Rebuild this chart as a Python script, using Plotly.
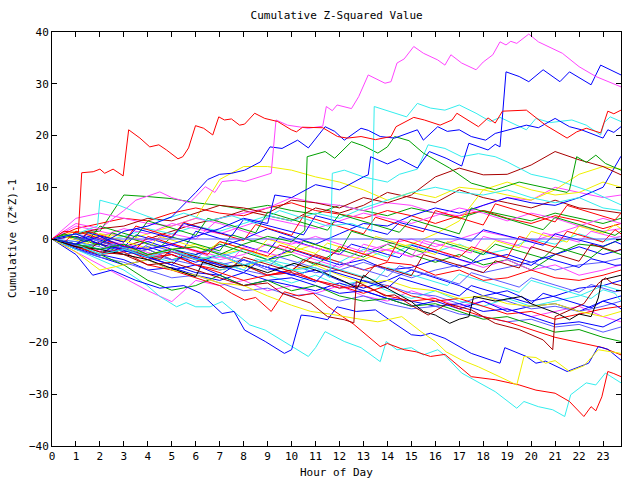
import plotly.graph_objects as go

# ---------------- data ----------------
HOURS = [0, 1, 2, 3, 4, 5, 6, 7, 8, 9, 10, 11, 12, 13, 14, 15, 16, 17, 18, 19, 20, 21, 22, 23, 23.75]
HALF_HOURS = [0, 0.5, 1, 1.5, 2, 2.5, 3, 3.5, 4, 4.5, 5, 5.5, 6, 6.5, 7, 7.5, 8, 8.5, 9, 9.5,
              10, 10.5, 11, 11.5, 12, 12.5, 13, 13.5, 14, 14.5, 15, 15.5, 16, 16.5, 17, 17.5,
              18, 18.5, 19, 19.5, 20, 20.5, 21, 21.5, 22, 22.5, 23, 23.5, 23.75]
X_TICKS = [0, 1, 2, 3, 4, 5, 6, 7, 8, 9, 10, 11, 12, 13, 14, 15, 16, 17, 18, 19, 20, 21, 22, 23]
Y_TICKS = [-40, -30, -20, -10, 0, 10, 20, 30, 40]

# outlier series, own knots
red_high_h = [0, 0.5, 1.1, 1.24, 1.72, 2.0, 2.2, 2.55, 2.97, 3.2, 3.67, 4.08, 4.46, 4.78, 5.26, 5.46, 5.7, 5.99, 6.33, 6.71, 6.96, 7.2, 7.49, 7.83, 8.04, 8.46, 8.88, 9.42, 9.99, 10.2, 10.46, 11.3, 11.92, 12.33, 12.9, 13.5, 14.15, 14.36, 15.1, 15.54, 16.2, 16.7, 16.9, 17.8, 18.2, 18.5, 18.8, 19.8, 20.6, 21.5, 21.9, 22.3, 22.9, 23.2, 23.45, 23.75]
red_high_v = [0, 1.5, 1.2, 12.8, 13.0, 13.5, 12.7, 13.5, 12.2, 21.1, 19.5, 17.8, 18.2, 17.2, 15.5, 15.9, 17.6, 21.9, 21.4, 20.1, 23.6, 23.0, 23.2, 22.0, 22.2, 24.3, 23.3, 22.7, 21.1, 20.7, 21.6, 21.5, 19.8, 19.5, 19.8, 19.2, 19.8, 21.7, 23.5, 23.0, 22.0, 23.0, 24.3, 21.7, 23.4, 22.4, 24.7, 24.9, 22.0, 19.5, 20.7, 21.4, 20.5, 24.7, 24.2, 24.9]

magenta_top_h = [0, 1, 2, 3, 3.5, 4.5, 5.0, 5.75, 6.4, 6.8, 7.1, 7.7, 8.04, 8.5, 9.15, 9.35, 9.83, 10.7, 11.3, 11.45, 11.7, 11.9, 12.5, 12.8, 13.2, 13.9, 14.15, 14.4, 14.7, 15.1, 15.5, 16.1, 16.4, 16.65, 17.1, 17.7, 18.0, 18.4, 18.7, 18.95, 19.15, 19.4, 19.9, 20.3, 21.3, 22.0, 22.7, 23.75]
magenta_top_v = [0, 3, 2, 5.5, 7.5, 9.1, 8.0, 7.0, 10.1, 9.0, 11.1, 11.4, 11.1, 11.8, 12.7, 23.0, 22.0, 21.4, 21.8, 25.6, 24.8, 25.9, 25.2, 27.5, 31.7, 30.1, 30.4, 34.0, 34.8, 37.2, 35.9, 34.6, 33.6, 35.6, 34.0, 32.7, 34.2, 35.6, 38.1, 37.5, 38.2, 37.8, 39.6, 38.1, 35.9, 33.3, 31.4, 29.4]

blue_jump_h = [0, 1, 2, 3, 4, 5, 6, 7, 8, 9, 9.3, 10, 11, 12, 13, 13.2, 13.3, 14, 14.5, 15.25, 15.75, 16.45, 17.1, 17.4, 18.2, 18.5, 18.7, 18.95, 19.5, 19.9, 20.5, 21.2, 21.6, 22.5, 22.9, 23.75]
blue_jump_v = [0, -1, 0.5, -1.5, -2, -1, 0.5, 2, 4, 3, 8.5, 8, 10.5, 9.5, 12, 12.4, 15.9, 14.5, 15.5, 13.7, 16.9, 15.6, 14.1, 18.5, 17.2, 18.3, 17.8, 32.3, 31.4, 30.4, 32.7, 30.4, 32.3, 29.8, 33.6, 31.7]

blue_a_h = [0, 1, 2, 3, 4, 5, 6, 6.5, 7, 7.5, 8.04, 8.7, 9.1, 9.6, 10.25, 10.7, 11.4, 11.8, 12.2, 12.9, 13.2, 13.7, 14.3, 15.25, 15.5, 16.1, 16.5, 17.0, 17.5, 18.1, 18.5, 18.8, 19.8, 20.3, 21.0, 21.6, 22.1, 23.0, 23.2, 23.45, 23.75]
blue_a_v = [0, 1, -1, 1.5, 2.5, 4.3, 9.0, 11.5, 12.5, 12.7, 13.3, 14.9, 17.8, 17.5, 19.1, 17.6, 21.7, 20.8, 19.1, 21.4, 21.0, 19.8, 19.5, 21.1, 19.1, 21.7, 20.8, 21.1, 19.8, 19.1, 20.4, 20.8, 22.0, 21.5, 23.3, 21.7, 21.1, 19.5, 21.1, 20.6, 21.7]

cyan_jump_h = [0, 1, 1.9, 2.0, 2.8, 3.5, 4.5, 5.5, 6.5, 7.5, 8.5, 9.5, 10.5, 11.5, 12.5, 13.35, 13.45, 14.15, 14.8, 15.25, 15.8, 16.4, 17.0, 17.7, 18.3, 18.7, 19.8, 20.2, 20.8, 21.7, 22.3, 22.9, 23.05, 23.3, 23.75]
cyan_jump_v = [0, 1, 2.5, 7.5, 6.5, 5.2, 3.5, 5.0, 3.5, 4.5, 3.0, 5.5, 4.0, 2.5, 3.0, 1.5, 25.6, 24.6, 23.6, 26.2, 25.3, 24.9, 25.9, 24.3, 22.7, 23.5, 21.1, 23.3, 22.5, 23.0, 22.0, 20.1, 22.5, 23.6, 22.7]

cyan_mid_h = [0, 1, 2, 3, 4, 5, 6, 7, 8, 9, 10, 11, 11.6, 11.7, 12.2, 13, 14, 14.5, 15.25, 15.7, 16.4, 17.1, 17.8, 18.5, 19, 20, 21, 22, 22.6, 23.75]
cyan_mid_v = [0, -1, -3, -2, -3.5, -2, -4, -3, -5, -4, -6, -5.5, -7.5, 12.7, 13.3, 12, 11, 12.5, 13.5, 18.2, 17.5, 15.9, 16.5, 15.9, 14.9, 12.5, 11.5, 10, 9, 6.6]

green_jump_h = [0, 1, 2, 3, 4, 5, 6, 7, 8, 9, 10, 10.55, 10.65, 11.4, 11.8, 12.5, 13.0, 13.6, 14.0, 14.3, 14.9, 15.5, 16.0, 16.6, 17.5, 18.5, 19.5, 20.5, 21.5, 21.6, 21.9, 22.3, 22.7, 23.1, 23.75]
green_jump_v = [0, -1, -2, -1, -3, -2, -1.5, -3, -1, 0.5, -0.5, 1.7, 15.9, 16.9, 15.6, 18.8, 18.0, 16.6, 17.8, 19.8, 19.0, 16.6, 15.3, 13.7, 10.8, 9.5, 11, 10, 9.0, 9.5, 15.9, 14.8, 16.2, 14.6, 13.3]

cyan_low_h = [0, 1, 2, 3, 3.95, 4.5, 5.2, 5.6, 6.0, 6.6, 7.1, 7.7, 8.25, 8.9, 9.8, 10.7, 11.0, 11.4, 12.2, 12.9, 13.7, 13.95, 14.4, 15.0, 15.5, 16.1, 16.4, 17.1, 18.5, 19.4, 19.7, 20.3, 20.9, 21.4, 21.65, 22.3, 22.7, 23.1, 23.75]
cyan_low_v = [0, -2, -4, -6, -8.9, -11.1, -13.1, -12.3, -13.1, -13.1, -12.1, -14.4, -16.6, -17.6, -20.1, -22.7, -21, -17.9, -19.8, -21, -23.7, -19.8, -21.4, -21.0, -22.4, -21.4, -22.5, -25.9, -29.5, -32.7, -31.4, -32.4, -33, -34.3, -30.1, -27.8, -28.2, -25.9, -27.8]

red_low_h = [0, 1, 2, 3, 4, 5, 6, 7, 7.5, 8.04, 8.5, 9.15, 9.7, 10.3, 10.9, 11.5, 12.6, 13.7, 14.0, 14.7, 15.2, 15.8, 16.4, 17.5, 18.5, 19.5, 20.2, 21.0, 21.6, 22.2, 22.5, 22.7, 22.95, 23.2, 23.45, 23.75]
red_low_v = [0, -1.5, -3, -2.5, -5, -6, -7.5, -9, -10.5, -11.8, -11.3, -14, -10.2, -11, -10.5, -13, -16.5, -20.8, -20.2, -21.4, -21.8, -22.7, -22.3, -26.6, -27.2, -28.2, -29.2, -29.8, -31.4, -34.3, -32.4, -33.2, -30.5, -25.6, -26.0, -26.6]

blue_low_h = [0, 0.5, 1, 1.7, 2.5, 3.5, 4.5, 5.5, 6.2, 7.1, 7.6, 8.04, 8.9, 9.7, 10.0, 10.4, 10.8, 11.5, 11.9, 12.7, 13.5, 14.2, 15.0, 15.4, 15.8, 16.4, 17.5, 18.7, 18.9, 19.8, 20.2, 20.6, 21.5, 22.4, 22.8, 23.2, 23.75]
blue_low_v = [0, -1.5, -3, -7, -6, -8, -9.5, -9, -10.5, -14.4, -14, -17.6, -19.8, -22.1, -21.4, -14.7, -14.9, -15.6, -13.1, -14.0, -13.7, -16.0, -18.5, -18.7, -18.2, -19.2, -22.1, -24, -21, -22.7, -24, -23.6, -25.6, -24, -20.8, -21.3, -23.4]

yellow_low_h = [0, 1, 2, 3, 4, 5, 6, 7, 8, 9, 10, 10.8, 11.6, 12.6, 13.6, 14.6, 15.4, 16.0, 16.45, 17.1, 17.8, 18.95, 19.4, 19.7, 20.2, 20.6, 21.0, 21.6, 22.2, 22.8, 23.75]
yellow_low_v = [0, -2.5, -6, -5, -4, -6, -7, -8.5, -9, -11, -12.8, -14, -14.5, -15.3, -16, -15, -17.9, -19.8, -21.8, -23.4, -24.7, -27.2, -28.2, -22.7, -22.9, -24, -23.5, -25.6, -24.5, -21.4, -22.1]

black_h = [0, 1, 2, 3, 4, 5.2, 6.0, 6.3, 7, 8, 9, 10.1, 11.4, 12.2, 12.75, 13.0, 14.0, 15.0, 15.5, 16.0, 16.6, 17.0, 17.4, 17.6, 18.5, 19.6, 20.0, 21.1, 21.6, 22.0, 22.5, 22.8, 22.95, 23.75]
black_v = [0, -1.5, -2, -3, -4, -6, -7.3, -4.4, -5.5, -5, -6.5, -4.7, -6.6, -8.2, -9.5, -7, -9.5, -12.1, -14, -14.7, -16.3, -15.5, -15, -11.1, -12, -11.1, -12.5, -14.4, -15.6, -14.5, -15, -11.4, -7.9, -7]

darkred_low_h = [0, 1, 2, 3, 4, 5, 6, 7, 8, 9, 9.6, 10.8, 11.5, 12.2, 12.6, 12.7, 13.3, 13.9, 14.3, 15.0, 15.7, 16.5, 17.5, 18.5, 19.5, 20.5, 20.9, 21.0, 21.6, 22.2, 22.8, 23.1, 23.4, 23.75]
darkred_low_v = [0, -1, -2.5, -3, -5, -4.5, -6, -7.5, -9, -8.5, -10.5, -12.4, -15, -15.6, -16.2, -8.2, -9.5, -11, -10.8, -12.8, -14.7, -12.5, -13.7, -16.3, -17.5, -19.5, -21.4, -15, -13.7, -12.5, -8.6, -7.5, -8.6, -9]

flat_h = [0.9, 23.75]
flat_v = [0, 0]

# hourly series (values at HOURS)
magenta_low = [0, -2.5, -5, -7.5, -10, -12.1, -8, -9, -8, -10, -9, -10.5, -9, -11, -12, -10, -11.5, -13, -12, -13.5, -15, -14, -13, -15, -16]
green_a = [0, 1, 1.5, 8.5, 8.2, 7.8, 7.0, 6.5, 5.7, 6.5, 5.5, 4.8, 6.5, 5.5, 4.5, 6, 5, 4, 5.5, 4.5, 3.5, 5, 4, 3, 4]
red_a = [0, 2, 3, 4, 3.5, 5, 6, 5, 4.5, 6, 7, 5.5, 4.8, 4, 5.5, 4.5, 3, 4.5, 5.5, 4, 3, 4.5, 3.5, 2, 3]
darkred_a = [0, 1, -0.5, -1.5, 0, 1.5, 3, 4, 5.5, 4.5, 3.5, 6, 5, 6.5, 9, 8, 7, 9.5, 8, 7, 6, 7.5, 6, 5.5, 5]
magenta_a = [0, 2.5, 1.5, 0.5, -0.5, 1, 0, 4, 5, 6, 8, 7, 6.5, 5.5, 7, 6.5, 5, 4.5, 6.5, 8, 7.5, 10, 9, 8, 8.5]
yellow_a = [0, 1.5, 0.5, -0.5, 1, 2.5, 4, 11.5, 14, 14, 13.3, 12, 11, 9.5, 7.5, 9, 8, 10, 9.5, 8.5, 7.5, 9.5, 12.5, 14, 13.5]
yellow_b = [0, -1, 1, 0.5, -1, -2, -1, -3, -2, -3.5, -2.5, -1, -3, -4, -2, -1, 1, 3.5, 9.5, 11, 9.5, 8.5, 9, 11, 10]
cyan_a = [0, -1, -2, -1.5, -3, -2, -4, -3.5, -2, -4, -5, -3, -4.5, -2, -3.5, -1, -2.5, -1, -3, -2, 0, -1, 1, -0.5, 0.5]
green_b = [0, -1.5, -1, -3, -2, -4, -3, -1, -2.5, -4, -3, -5, -2, -3.5, -1, -3, -4.5, -3, -5, -4, -6, -3, -1, -1.5, 0]
blue_b = [0, 0.5, -1, -2.5, -1.5, -3, -4.5, -3, -5, -4, -2, -3.5, -5, -4, -6, -5.5, -4, -5.5, -4, -3, -4.5, -3, -1.5, -3, -2.1]
slate_a = [0, -1, -2, -1.5, -3, -4, -3.5, -5, -4, -6, -5, -6.5, -6, -4.5, -6, -7.5, -6, -5, -6.5, -5.5, -4.5, -6, -5, -4.5, -3.7]
magenta_b = [0, 1, 0, -1, -2, -1, -2.5, -4, -3, -1, -2.5, -4, -5.5, -3, -2, -3.5, -2, -4, -5.5, -4, -6, -5, -7, -6, -5]
red_b = [0, -1, -2.5, -2, -4, -3, -5, -6, -5, -7, -6, -3, -4.5, -6, -4.5, -5, -7, -6, -8, -7.5, -6, -7.5, -8, -7, -6]
blue_c = [0, -2, -3.5, -5, -4, -6, -5, -7, -4, -5.5, -7, -6, -8, -9.5, -8, -6, -7.5, -9, -11, -10, -12, -11, -9.5, -9, -8]
cyan_b = [0, -0.5, -2, -1, -3, -2.5, -4, -6, -5, -7, -8.5, -7, -9, -8, -10, -11.5, -10, -12, -13, -11.5, -13, -12, -11, -9, -10]
blue_d = [0, -1, -3, -4, -6, -5.5, -7, -8, -6.5, -8, -9, -10, -8.5, -10, -11.5, -13, -12, -13.5, -12, -14, -13, -12.5, -14, -12, -11]
slate_b = [0, -0.5, -1.5, -3, -2, -4, -5, -4.5, -6, -7, -6.5, -8, -9.5, -8, -9, -10.5, -11, -12.5, -11, -12, -13.5, -13, -14, -13, -12]
red_c = [0, 0.5, -1, -2, -3.5, -3, -5, -6.5, -8, -7, -6, -8, -9, -10.5, -9, -11, -12, -11.5, -13, -14.5, -14, -15.5, -14.5, -13.5, -13]
yellow_c = [0, -1, 0.5, -1.5, -3, -2, -4, -3, -5.5, -4, -6, -5, -7, -8.5, -8, -9.5, -10, -11.5, -11, -12.5, -13, -12.5, -14, -15, -14]
blue_e = [0, -1.5, -3, -2, -3.5, -5, -6.5, -7, -9, -8, -7.5, -9, -10.5, -10, -11.5, -12, -13, -12.5, -14, -13.5, -15, -16.5, -16, -17, -15.3]
slate_c = [0, -2, -3.5, -4.5, -6, -7.5, -7, -8.5, -10, -9.5, -11, -10.5, -12, -11, -12.5, -13.5, -13, -14.5, -15, -16, -15.5, -17, -16.5, -18, -17]
green_c = [0, -1.5, -3, -5, -8, -9.9, -9, -7, -9, -8, -10, -9, -11, -12, -11.5, -13, -12.5, -14, -15.5, -15, -16.5, -18, -17.5, -19, -19.8]
red_d = [0, -1, 0.5, -2, -3, -2.5, -4, -5.5, -5, -7, -6.5, -8, -9.5, -9, -11, -12, -11.5, -13.5, -15, -16, -17.5, -19, -20, -21, -22.4]
magenta_c = [0, 4, 5, 4, 3, 2.5, 4, 3, 1.5, 0, -1, 0.5, -1, -2.5, -1, 0, -1.5, 0, 1.5, 0.5, -0.5, 1, 2.5, 1.5, 2]
blue_f = [0, 0.5, -1, -2, -0.5, -2, -3, -1.5, 0, 2, 0.5, -1, 1, 3, 2.5, 4.5, 6, 5, 6.5, 8, 7, 6.5, 8, 10, 16]
darkred_b = [0, 1, 2, 2.5, 4, 3.5, 5, 6.5, 6, 5, 7.5, 7, 6, 8, 7, 8.5, 12, 13.7, 12.4, 12.5, 14.3, 16.9, 15.3, 14, 12.4]
cyan_d = [0, 1, -0.5, 0.5, 2, 1, 2.5, 1.5, 3, 4.5, 3.5, 5, 4, 6, 7.5, 9, 10, 9, 8.5, 9.5, 8, 7, 8, 6, 5.5]
magenta_e = [0, -1, 0.5, 2, 1, 3, 2, 1, 2.5, 4, 3, 2, 3.5, 5, 4, 3, 4.5, 6, 5, 3.5, 5, 4, 2.5, 4, 3]

# half-hourly series (values at HALF_HOURS)
blue_g = [0, -0.5, -1, 0.5, -0.2, -1, -1.6, 0.8, 0.2, -0.5, -1.2, -1.8, 1.5, 0.8, 0, -0.6, -1.3, -2, -2.6, 0.5, -0.2, -1, -1.7, -2.4, -3, -1, -1.6, -2.3, -3, -3.6, -1.2, -1.9, -2.6, -3.3, -4, -4.6, -2.4, -3, -3.7, -4.4, -5.1, -3.5, -4.1, -4.8, -5.5, -3.8, -4.4, -5.1, -5]
red_e = [0, -0.7, -1.4, 1.5, 0.8, 0.1, -0.6, 2.5, 1.8, 1.1, 0.4, 3.2, 2.5, 1.8, 1.1, 0.4, -0.3, 2.8, 2.1, 1.4, 0.7, 4.5, 3.8, 3.1, 2.4, 1.7, 1, 4.2, 3.5, 2.8, 2.1, 1.4, 5.5, 4.8, 4.1, 3.4, 2.7, 6.8, 6.1, 5.4, 4.7, 4, 3.3, 6.5, 5.8, 5.1, 4.4, 3.7, 5]
green_d = [0, 0.8, 0.1, -0.6, -1.2, 1.2, 0.5, -0.2, -0.9, -1.6, 0.4, -0.3, -1, -1.7, -2.3, 0.8, 0.1, -0.6, -1.3, -2, -2.6, -0.4, -1.1, -1.8, -2.5, 1.5, 0.8, 0.1, -0.6, -1.3, -2, -2.6, -0.2, -0.9, -1.6, -2.3, -3, -1, -1.7, -2.4, -3.1, -3.7, -1.5, -2.2, -2.9, -3.6, -1.8, -2.5, -3]
magenta_d = [0, -0.6, -1.2, -1.8, -2.4, -0.8, -1.4, -2, -2.6, -3.2, -1, -1.6, -2.2, -2.8, -3.4, -4, -1.5, -2.1, -2.7, -3.3, -0.5, -1.1, -1.7, -2.3, -2.9, -3.5, -1, -1.6, -2.2, -2.8, -3.4, -0.3, -0.9, -1.5, -2.1, -2.7, 0.5, -0.1, -0.7, -1.3, -1.9, 1.2, 0.6, 0, -0.6, 1.5, 0.9, 0.3, 0.5]
cyan_c = [0, -0.7, -1.4, -2.1, -2.8, -1, -1.7, -2.4, -3.1, -3.8, -4.5, -2.5, -3.2, -3.9, -4.6, -5.3, -6, -3.8, -4.5, -5.2, -5.9, -6.6, -4.5, -5.2, -5.9, -6.6, -7.3, -8, -5.5, -6.2, -6.9, -7.6, -8.3, -9, -6.8, -7.5, -8.2, -8.9, -9.6, -10.3, -8, -8.7, -9.4, -10.1, -10.8, -11.5, -9.8, -10.5, -12]
darkred_c = [0, -0.8, -1.5, -2.2, -0.5, -1.2, -1.9, -2.6, -3.3, -4, -2, -2.7, -3.4, -4.1, -4.8, -5.5, -3.5, -4.2, -4.9, -5.6, -6.3, -4, -4.7, -5.4, -6.1, -6.8, -7.5, -5, -5.7, -6.4, -7.1, -3, -3.7, -4.4, -5.1, -5.8, -6.5, -4.2, -4.9, -5.6, -1.5, -2.2, -2.9, -3.6, -4.3, -1, -1.7, -2.4, -2]
yellow_d = [0, 0.5, -0.2, -0.9, 1, 0.3, -0.4, -1.1, -1.8, 0.5, -0.2, -0.9, -1.6, -2.3, -0.5, -1.2, -1.9, -2.6, 0, -0.7, -1.4, -2.1, -2.8, -0.8, -1.5, -2.2, -2.9, 0.5, -0.2, -0.9, -1.6, -2.3, -3, -0.5, -1.2, -1.9, -2.6, -0.3, -1, -1.7, 1.5, 0.8, 0.1, -0.6, 2.5, 1.8, 1.1, 2.8, 2]
blue_h = [0, -1, -1.8, -2.5, -3.2, -1.5, -2.2, -2.9, -3.6, -4.3, -5, -3, -3.7, -4.4, -5.1, -5.8, -6.5, -4.8, -5.5, -6.2, -6.9, -7.6, -8.3, -6, -6.7, -7.4, -8.1, -8.8, -9.5, -7.5, -8.2, -8.9, -9.6, -10.3, -11, -9, -9.7, -10.4, -11.1, -11.8, -12.5, -10.5, -11.2, -11.9, -12.6, -13.3, -12, -12.7, -13.5]
green_e = [0, 1, 0.3, -0.4, 2.5, 1.8, 1.1, 0.4, 3.5, 2.8, 2.1, 1.4, 0.7, 4, 3.3, 2.6, 1.9, 1.2, 5.2, 4.5, 3.8, 3.1, 2.4, 1.7, 4.8, 4.1, 3.4, 2.7, 2, 1.3, 3.8, 3.1, 2.4, 1.7, 1, 6, 5.3, 4.6, 3.9, 3.2, 2.5, 1.8, 4.2, 3.5, 2.8, 2.1, 1.4, 0.7, 1.5]
slate_d = [0, -0.6, -1.3, 0.2, -0.5, -1.2, -1.9, -2.6, -1, -1.7, -2.4, -3.1, -3.8, -2, -2.7, -3.4, -4.1, -4.8, -5.5, -3.5, -4.2, -4.9, -5.6, -6.3, -4.5, -5.2, -5.9, -6.6, -7.3, -5.2, -5.9, -6.6, -7.3, -8, -8.7, -6.5, -7.2, -7.9, -8.6, -9.3, -7.5, -8.2, -8.9, -9.6, -10.3, -8.8, -9.5, -10.2, -10]
red_f = [0, -0.7, 1.5, 0.8, 0.1, -0.6, -1.3, -2, 0.5, -0.2, -0.9, -1.6, -2.3, -3, -0.5, -1.2, -1.9, -2.6, -3.3, -1.2, -1.9, -2.6, -3.3, -4, -1.5, -2.2, -2.9, -3.6, -4.3, 0, -0.7, -1.4, -2.1, -2.8, -3.5, -1.5, -2.2, -2.9, -3.6, 0.5, -0.2, -0.9, -1.6, 1.5, 0.8, 0.1, -0.6, 1.8, 1]
blue_i = [0, -0.5, -1.1, 1.2, 0.6, 0, -0.6, 2, 1.4, 0.8, 0.2, 3, 2.4, 1.8, 1.2, 0.6, 3.8, 3.2, 2.6, 2, 1.4, 0.8, 4.5, 3.9, 3.3, 2.7, 2.1, 1.5, 0.9, 3.2, 2.6, 2, 1.4, 0.8, 0.2, -0.4, 1.8, 1.2, 0.6, 0, -0.6, -1.2, 1, 0.4, -0.2, -0.8, -1.4, -0.5, -1]

# ---------------- colours ----------------
RED, GREEN, BLUE, MAGENTA = "#ff0000", "#00a000", "#0000ff", "#ff44ff"
CYAN, DARKRED, YELLOW, BLACK, SLATE = "#33eeee", "#a80000", "#f0f000", "#000000", "#5a5aff"

knot_series = [
    (SLATE, flat_h, flat_v),
    (CYAN, cyan_low_h, cyan_low_v),
    (RED, red_low_h, red_low_v),
    (BLUE, blue_low_h, blue_low_v),
    (YELLOW, yellow_low_h, yellow_low_v),
    (BLACK, black_h, black_v),
    (DARKRED, darkred_low_h, darkred_low_v),
    (CYAN, cyan_mid_h, cyan_mid_v),
    (GREEN, green_jump_h, green_jump_v),
    (CYAN, cyan_jump_h, cyan_jump_v),
    (BLUE, blue_a_h, blue_a_v),
    (BLUE, blue_jump_h, blue_jump_v),
    (MAGENTA, magenta_top_h, magenta_top_v),
    (RED, red_high_h, red_high_v),
]
hourly_series = [
    (MAGENTA, magenta_low), (GREEN, green_a), (RED, red_a), (DARKRED, darkred_a),
    (MAGENTA, magenta_a), (YELLOW, yellow_a), (YELLOW, yellow_b), (CYAN, cyan_a),
    (GREEN, green_b), (BLUE, blue_b), (SLATE, slate_a), (MAGENTA, magenta_b),
    (RED, red_b), (BLUE, blue_c), (CYAN, cyan_b), (BLUE, blue_d), (SLATE, slate_b),
    (RED, red_c), (YELLOW, yellow_c), (BLUE, blue_e), (SLATE, slate_c), (GREEN, green_c),
    (RED, red_d), (MAGENTA, magenta_c), (BLUE, blue_f), (DARKRED, darkred_b),
    (CYAN, cyan_d), (MAGENTA, magenta_e),
]
half_series = [
    (BLUE, blue_g), (RED, red_e), (GREEN, green_d), (MAGENTA, magenta_d), (CYAN, cyan_c),
    (DARKRED, darkred_c), (YELLOW, yellow_d), (BLUE, blue_h), (GREEN, green_e),
    (SLATE, slate_d), (RED, red_f), (BLUE, blue_i),
]

all_series = ([(c, HOURS, v) for c, v in hourly_series]
              + [(c, HALF_HOURS, v) for c, v in half_series]
              + knot_series)

fig = go.Figure()
for color, xs, ys in all_series:
    assert len(xs) == len(ys), (color, len(xs), len(ys))
    fig.add_trace(go.Scatter(x=xs, y=ys, mode="lines",
                             line=dict(color=color, width=1),
                             hoverinfo="skip", showlegend=False))

FONT = "DejaVu Sans Mono"
axis_common = dict(showgrid=False, zeroline=False, showline=True, linecolor="black",
                   linewidth=1, mirror="ticks", ticks="inside", ticklen=5,
                   tickcolor="black", tickfont=dict(family=FONT, size=11, color="black"))

fig.update_layout(
    width=640, height=480,
    margin=dict(l=52, r=19, t=32, b=34, pad=0),
    paper_bgcolor="white", plot_bgcolor="white",
    title=dict(text="Cumulative Z-Squared Value", x=0.526, xanchor="center",
               y=1 - 15 / 480, yanchor="middle",
               font=dict(family=FONT, size=11, color="black")),
    xaxis=dict(range=[0, 23.75], tickmode="array", tickvals=X_TICKS, **axis_common),
    yaxis=dict(range=[-40, 40], tickmode="array", tickvals=Y_TICKS, **axis_common),
    annotations=[
        dict(text="Hour of Day", xref="paper", yref="paper", x=0.5, y=0,
             yshift=-26, showarrow=False, xanchor="center", yanchor="middle",
             font=dict(family=FONT, size=11, color="black")),
        dict(text="Cumulative (Z*Z)-1", xref="paper", yref="paper", x=0, y=0.5,
             xshift=-40, showarrow=False, textangle=-90, xanchor="center",
             yanchor="middle", font=dict(family=FONT, size=11, color="black")),
    ],
)

fig.write_html("out.html")
